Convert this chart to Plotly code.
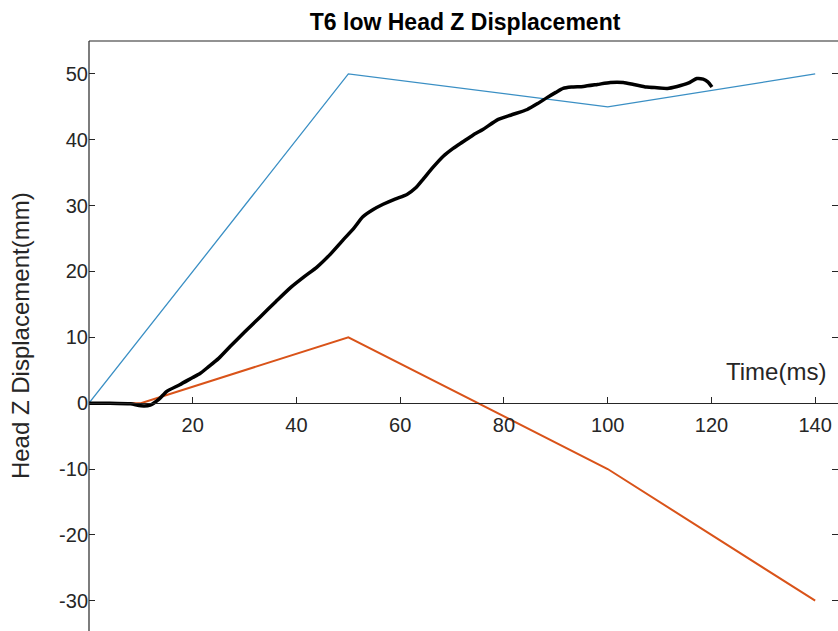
import plotly.graph_objects as go

# ---- data ----
blue_x = [0, 50, 100, 140]
blue_y = [0, 50, 45, 50]

orange_x = [0, 10, 50, 100, 140]
orange_y = [0, 0, 10, -10, -30]

black_x = [0, 4, 8, 10, 11.8, 13.5, 15, 17.5, 20, 21.4, 23, 25, 27.2, 30, 33, 36, 38.8, 41.5, 44, 46.5,
           49, 51, 52.8, 54.8, 56.7, 59, 61.3, 63, 64.4, 66.3, 68.3, 70.2, 72.1, 74, 76, 78.9, 81.5,
           84.5, 86.5, 88.3, 90, 91.4, 93, 95.3, 98, 100.5, 103, 105, 107.5, 109.5, 111.5, 113.4,
           115.5, 117.2, 118.4, 119.3, 120.1]
black_y = [0, 0, -0.1, -0.4, -0.3, 0.6, 1.8, 2.8, 3.9, 4.5, 5.5, 6.8, 8.6, 10.8, 13.1, 15.4, 17.5, 19.2,
           20.7, 22.6, 24.8, 26.5, 28.3, 29.4, 30.2, 31.0, 31.7, 32.7, 34.0, 35.8, 37.5, 38.7, 39.7, 40.7,
           41.6, 43.1, 43.8, 44.6, 45.5, 46.4, 47.2, 47.8, 48.0, 48.1, 48.4, 48.7, 48.7, 48.4, 48.0,
           47.9, 47.8, 48.1, 48.6, 49.3, 49.2, 48.8, 48.0]

x_ticks = [20, 40, 60, 80, 100, 120, 140]
y_ticks = [-30, -20, -10, 0, 10, 20, 30, 40, 50]

title_text = "T6 low Head Z Displacement"
x_label = "Time(ms)"
y_label = "Head Z Displacement(mm)"

x_range = [0, 144.4]
y_range = [-34.6, 55.0]

AX = "#262626"
FONT = "Liberation Sans, Arial, sans-serif"

fig = go.Figure()
fig.add_trace(go.Scatter(x=blue_x, y=blue_y, mode="lines",
                         line=dict(color="#3a8fc4", width=1.3), showlegend=False))
fig.add_trace(go.Scatter(x=orange_x, y=orange_y, mode="lines",
                         line=dict(color="#d95319", width=2), showlegend=False))
fig.add_trace(go.Scatter(x=black_x, y=black_y, mode="lines",
                         line=dict(color="black", width=3.5, shape="spline", smoothing=0.6),
                         showlegend=False))

zero_pos = (0 - y_range[0]) / (y_range[1] - y_range[0])

fig.update_layout(
    width=838, height=631,
    margin=dict(l=89, r=0, t=41, b=0),
    paper_bgcolor="white", plot_bgcolor="white",
    font=dict(family=FONT, color=AX),
    title=dict(text="<b>" + title_text + "</b>", x=0.555, xanchor="center", y=0.965, yanchor="middle",
               font=dict(size=23, color="black", family=FONT)),
    xaxis=dict(range=x_range, anchor="free", position=zero_pos,
               showline=True, linecolor=AX, linewidth=1,
               ticks="inside", ticklen=6, tickcolor=AX, tickwidth=1,
               tickvals=x_ticks, ticktext=[str(v) for v in x_ticks], ticklabelstandoff=4,
               tickfont=dict(size=20, color=AX), showgrid=False, zeroline=False),
    yaxis=dict(range=y_range, showline=False, mirror="ticks",
               ticks="inside", ticklen=6, tickcolor=AX, tickwidth=1,
               tickvals=y_ticks, ticktext=[str(v) for v in y_ticks],
               tickfont=dict(size=20, color=AX), showgrid=False, zeroline=False),
    shapes=[
        dict(type="line", xref="paper", yref="paper", x0=0, x1=0, y0=0, y1=1,
             line=dict(color=AX, width=1.2)),
        dict(type="line", xref="paper", yref="paper", x0=0, x1=1, y0=1, y1=1,
             line=dict(color=AX, width=1.2)),
    ],
    annotations=[
        dict(text=x_label, xref="x", yref="y", x=142.5, y=4.8, xanchor="right", yanchor="middle",
             showarrow=False, font=dict(size=24, color=AX)),
        dict(text=y_label, xref="paper", yref="paper", x=-0.092, y=0.5, xanchor="center",
             yanchor="middle", textangle=-90, showarrow=False, font=dict(size=24, color=AX)),
    ],
)

fig.write_html(
    "out.html",
    config={"displayModeBar": False},
    post_script="document.body.style.margin='0';document.body.style.overflow='hidden';"
                "document.documentElement.style.overflow='hidden';",
)
